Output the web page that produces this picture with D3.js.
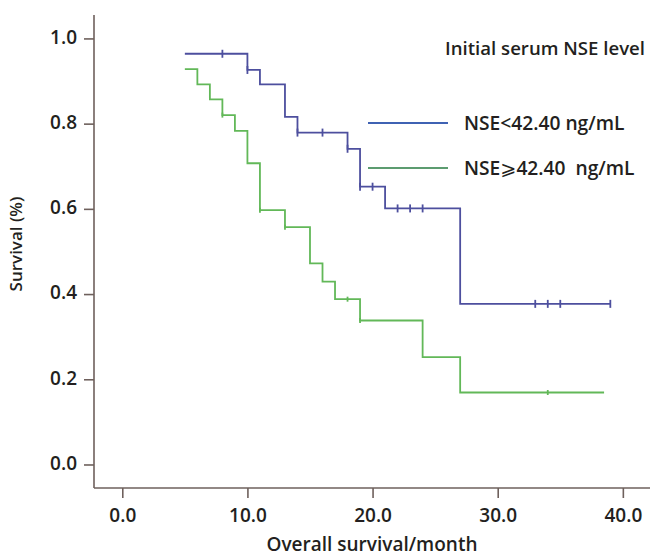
<!DOCTYPE html>
<html><head><meta charset="utf-8">
<script src="https://cdn.jsdelivr.net/npm/d3@7"></script>
<style>body{margin:0;background:#fff}svg{display:block}</style>
</head><body>
<script>
const xTicks = [0, 10, 20, 30, 40];
const yTicks = [0, 0.2, 0.4, 0.6, 0.8, 1.0];
const seriesPrefix = ["NSE<42.40 ng/mL", "NSE"];
const seriesSymbol = ["", "\u2A7E"];
const seriesSuffix = ["", "42.40  ng/mL"];
const legendTitle = "Initial serum NSE level";
const xLabel = "Overall survival/month";
const yLabel = "Survival (%)";

const lowTimes = [5, 10, 11, 13, 14, 18, 19, 21, 27, 39];
const lowSurv  = [0.964, 0.926, 0.892, 0.816, 0.779, 0.741, 0.652, 0.601, 0.377, 0.377];
const lowCensor = [8, 10, 14, 16, 18, 19, 20, 22, 23, 24, 33, 34, 35, 39];

const highTimes = [5, 6, 7, 8, 9, 10, 11, 13, 15, 16, 17, 19, 24, 27, 38.5];
const highSurv  = [0.928, 0.892, 0.857, 0.820, 0.783, 0.707, 0.597, 0.557, 0.472, 0.429, 0.388, 0.338, 0.252, 0.169, 0.169];
const highCensor = [8, 11, 13, 18, 19, 34];

const W = 653, H = 558;
const textCol = "#231f20", axisCol = "#6e605c";
const lineCols = ["#4d4f9e", "#62b858"];
const legendCols = ["#3f62b3", "#5c9c70"];
const font = "'Open Sans', sans-serif";

const svg = d3.select("body").append("svg").attr("width", W).attr("height", H);

const x = d3.scaleLinear().domain([-2.26, 42.17]).range([94, 650]);
const y = d3.scaleLinear().domain([-0.0552, 1.055]).range([488, 15]);

// axes
const yAxis = svg.append("g").attr("transform", "translate(94,0)")
  .call(d3.axisLeft(y).tickValues(yTicks).tickFormat(d3.format(".1f")).tickSize(10).tickPadding(7));
const xAxis = svg.append("g").attr("transform", "translate(0,488)")
  .call(d3.axisBottom(x).tickValues(xTicks).tickFormat(d3.format(".1f")).tickSize(10).tickPadding(11));
[yAxis, xAxis].forEach(g => {
  g.select(".domain").attr("stroke", axisCol).attr("stroke-width", 1.6);
  g.selectAll(".tick line").attr("stroke", axisCol).attr("stroke-width", 1.6);
  g.selectAll(".tick text").attr("fill", textCol).style("font-family", font)
    .style("font-weight", 600).style("font-size", "19px");
});
yAxis.selectAll(".tick text").attr("dy", "0.25em");
xAxis.select(".domain").attr("d", `M${x.range()[0]},0H${x.range()[1]}`);
yAxis.select(".domain").attr("d", `M0,${y.range()[1]}V${y.range()[0]}`);

const line = d3.line().x(d => x(d[0])).y(d => y(d[1])).curve(d3.curveStepAfter);

function stepAt(times, surv, t) {
  let v = surv[0];
  for (let i = 0; i < times.length; i++) if (times[i] <= t) v = surv[i];
  return v;
}

const groups = [
  {times: lowTimes, surv: lowSurv, cens: lowCensor, col: lineCols[0], h: 4},
  {times: highTimes, surv: highSurv, cens: highCensor, col: lineCols[1], h: 2.5}
];
groups.forEach(g => {
  const pts = g.times.map((t, i) => [t, g.surv[i]]);
  svg.append("path").attr("d", line(pts)).attr("fill", "none")
    .attr("stroke", g.col).attr("stroke-width", 1.8);
  svg.selectAll(null).data(g.cens).enter().append("line")
    .attr("x1", d => x(d)).attr("x2", d => x(d))
    .attr("y1", d => y(stepAt(g.times, g.surv, d)) - g.h)
    .attr("y2", d => y(stepAt(g.times, g.surv, d)) + g.h)
    .attr("stroke", g.col).attr("stroke-width", 1.8);
});

// legend
svg.append("text").attr("x", 645).attr("y", 55).attr("text-anchor", "end")
  .attr("fill", textCol).style("font-family", font).style("font-weight", 600)
  .style("font-size", "18.6px").text(legendTitle);
const ly = [123, 168];
seriesPrefix.forEach((n, i) => {
  svg.append("line").attr("x1", 368).attr("x2", 448).attr("y1", ly[i]).attr("y2", ly[i])
    .attr("stroke", legendCols[i]).attr("stroke-width", 2);
  const t = svg.append("text").attr("x", 464).attr("y", ly[i] + 7).attr("fill", textCol)
    .style("font-family", font).style("font-weight", 600).style("font-size", "19.2px")
    .attr("xml:space", "preserve").style("white-space", "pre");
  t.append("tspan").text(n);
  if (seriesSymbol[i]) {
    t.append("tspan").style("font-family", "'DejaVu Sans', sans-serif").style("font-weight", 400)
      .text(seriesSymbol[i]);
    t.append("tspan").text(seriesSuffix[i]);
  }
});

// axis titles
svg.append("text").attr("x", 372).attr("y", 551).attr("text-anchor", "middle")
  .attr("fill", textCol).style("font-family", font).style("font-weight", 600)
  .style("font-size", "19px").text(xLabel);
svg.append("text").attr("transform", "translate(22,244) rotate(-90)").attr("text-anchor", "middle")
  .attr("fill", textCol).style("font-family", font).style("font-weight", 600)
  .style("font-size", "17px").text(yLabel);
</script>
</body></html>
